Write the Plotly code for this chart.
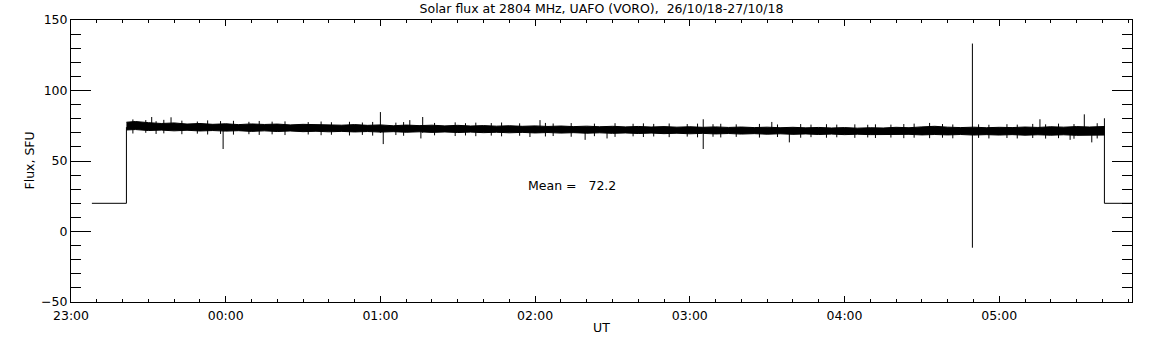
from datetime import datetime, timedelta
import plotly.graph_objects as go

# ---- data (time in minutes after 23:00 UT, 26/10/18; flux in SFU) ----
env_t = [21.5, 25, 30, 35, 40, 45, 50, 55, 60, 65, 70, 75, 80, 85, 90, 95, 100, 105, 110, 115,
         120, 125, 130, 135, 140, 145, 150, 155, 160, 165, 170, 175, 180, 185, 190, 195, 200, 205,
         210, 215, 220, 225, 230, 235, 240, 245, 250, 255, 260, 265, 270, 275, 280, 285, 290, 295,
         300, 305, 310, 315, 320, 325, 330, 335, 340, 345, 350, 355, 360, 365, 370, 375, 380, 385,
         390, 395, 401]
env_upper = [77.5, 78.0, 77.2, 76.6, 77.0, 76.2, 76.6, 76.0, 76.4, 75.8, 76.3, 75.9, 76.2, 75.6,
             76.0, 75.7, 75.9, 75.4, 75.8, 75.3, 75.6, 75.0, 75.5, 75.1, 75.4, 74.9, 75.3, 74.8,
             75.1, 74.7, 75.0, 74.6, 74.9, 74.5, 74.8, 74.4, 74.7, 74.3, 74.6, 74.2, 74.5, 74.1,
             74.4, 74.0, 74.3, 73.9, 74.2, 73.8, 74.1, 73.7, 74.0, 73.6, 73.9, 73.5, 73.8, 73.4,
             73.7, 73.3, 73.6, 73.4, 73.9, 73.6, 74.2, 74.6, 74.0, 73.7, 74.0, 73.6, 73.9, 73.7,
             74.1, 73.8, 74.3, 74.0, 74.4, 74.1, 74.5]
env_lower = [72.0, 72.3, 71.6, 71.9, 71.4, 71.8, 71.3, 71.6, 71.2, 71.5, 71.0, 71.4, 70.9, 71.3,
             70.8, 71.1, 70.7, 71.0, 70.6, 70.9, 70.5, 70.8, 70.4, 70.7, 70.3, 70.6, 70.2, 70.5,
             70.1, 70.4, 70.0, 70.3, 69.9, 70.2, 69.8, 70.1, 69.7, 70.0, 69.6, 69.9, 69.5, 69.8,
             69.4, 69.7, 69.3, 69.6, 69.2, 69.5, 69.1, 69.4, 69.0, 69.3, 68.9, 69.2, 68.8, 69.1,
             68.7, 69.0, 68.7, 68.9, 68.6, 68.9, 68.5, 68.8, 68.5, 68.8, 68.4, 68.7, 68.4, 68.7,
             68.3, 68.6, 68.3, 68.6, 68.2, 68.5, 68.4]

# isolated spikes: time, low, high
spike_t = [31.3, 38.8, 59.0, 120.0, 121.1, 136.4, 135.7, 131.4, 178.0, 181.9, 199.4, 207.9,
           245.2, 271.8, 278.6, 349.6, 375.8, 387.5, 393.0, 395.9, 400.8]
spike_lo = [72.0, 72.0, 58.5, 70.0, 62.0, 70.0, 66.0, 71.0, 67.0, 70.0, 65.0, 66.0,
            58.5, 70.0, 63.2, -11.5, 70.0, 65.0, 70.0, 63.2, 20.0]
spike_hi = [81.2, 81.0, 73.0, 84.7, 75.0, 81.2, 74.0, 79.0, 73.0, 79.0, 72.0, 72.0,
            79.6, 77.7, 72.0, 133.3, 79.6, 72.0, 83.1, 72.0, 80.3]

# small noise excursions of the band: time, low, high
whisk_t = [24, 29, 33, 36, 43, 49, 53, 58, 63, 69, 73, 78, 83, 92, 97, 101, 108, 113, 117, 126,
           129, 141, 149, 153, 157, 163, 167, 174, 184, 187, 194, 203, 211, 218, 222, 226, 232,
           239, 243, 249, 252, 258, 267, 274, 283, 287, 293, 297, 304, 309, 312, 318, 323, 327,
           333, 338, 342, 352, 356, 363, 367, 373, 378, 383, 389, 398]
whisk_hi = [79.5, 79.0, 78.2, 79.2, 78.6, 78.0, 78.8, 78.3, 78.5, 77.8, 78.4, 77.9, 78.1, 77.6,
            78.0, 77.5, 77.8, 77.3, 77.7, 77.2, 77.6, 77.0, 77.4, 76.8, 77.2, 76.9, 77.3, 76.7,
            77.0, 76.6, 76.9, 76.5, 76.8, 76.4, 76.7, 76.3, 76.6, 76.2, 76.5, 76.1, 76.4, 76.0,
            76.3, 75.9, 76.2, 75.8, 76.1, 75.8, 76.0, 75.7, 76.0, 75.8, 76.2, 76.5, 77.0, 76.2,
            75.9, 76.0, 75.7, 76.1, 75.8, 76.3, 76.0, 76.5, 76.2, 76.8]
whisk_lo = [69.5, 70.0, 69.2, 69.6, 69.0, 69.4, 68.8, 69.2, 68.7, 69.0, 68.5, 68.9, 68.4, 68.8,
            68.3, 68.6, 68.1, 68.5, 68.0, 68.4, 67.9, 68.2, 67.7, 68.1, 67.6, 68.0, 67.5, 67.9,
            67.4, 67.7, 67.2, 67.6, 67.1, 67.5, 67.0, 67.4, 66.9, 67.3, 66.8, 67.2, 66.7, 67.1,
            66.6, 67.0, 66.5, 66.9, 66.5, 66.8, 66.4, 66.7, 66.3, 66.6, 66.2, 66.5, 66.2, 66.5,
            66.1, 66.4, 66.0, 66.3, 66.0, 66.3, 65.9, 66.2, 65.8, 66.0]

# baseline (instrument off) segments
base_t = [8.1, 21.5, 21.5, None, 400.8, 411.5]
base_v = [20.0, 20.0, 74.0, None, 20.0, 20.0]

mean_value = 72.2
y_ticks = [-50, 0, 50, 100, 150]

t0 = datetime(2018, 10, 26, 23, 0)
def T(m):
    return None if m is None else t0 + timedelta(minutes=m)

fig = go.Figure()
fig.add_trace(go.Scatter(x=[T(m) for m in env_t], y=env_lower, mode="lines",
                         line=dict(color="black", width=1), showlegend=False))
fig.add_trace(go.Scatter(x=[T(m) for m in env_t], y=env_upper, mode="lines", fill="tonexty",
                         fillcolor="black", line=dict(color="black", width=1), showlegend=False))
sx, sy = [], []
for t, lo, hi in list(zip(spike_t, spike_lo, spike_hi)) + list(zip(whisk_t, whisk_lo, whisk_hi)):
    sx += [T(t), T(t), None]
    sy += [lo, hi, None]
fig.add_trace(go.Scatter(x=sx, y=sy, mode="lines", line=dict(color="black", width=1),
                         showlegend=False, connectgaps=False))
fig.add_trace(go.Scatter(x=[T(m) for m in base_t], y=base_v, mode="lines",
                         line=dict(color="black", width=1), showlegend=False, connectgaps=False))

FS = 12.5
font = dict(family="DejaVu Sans", size=FS, color="black")
fig.update_layout(
    width=1152, height=345,
    margin=dict(l=71, r=20, t=20, b=41),
    paper_bgcolor="white", plot_bgcolor="white",
    font=font, hovermode=False,
    title=dict(text="Solar flux at 2804 MHz, UAFO (VORO),\u00a0\u00a026/10/18-27/10/18",
               x=(71 + 1132) / 2 / 1152, xanchor="center", y=1 - 9 / 345, yanchor="middle",
               yref="container", font=font),
    xaxis=dict(type="date", range=[T(0), T(411.5)], tickformat="%H:%M",
               tick0=T(0), dtick=3600000, ticks="inside", ticklen=6, tickwidth=1,
               tickcolor="black", showline=True, linecolor="black", linewidth=1,
               mirror="allticks", showgrid=False, zeroline=False, ticklabelstandoff=2,
               minor=dict(dtick=600000, ticklen=3, ticks="inside", tickcolor="black", showgrid=False),
               title=dict(text="UT", standoff=1, font=font)),
    yaxis=dict(range=[-50, 150], tickvals=y_ticks,
               ticktext=[("\u2212" + str(-v)) if v < 0 else str(v) for v in y_ticks],
               ticks="inside", ticklen=20, tickwidth=1, tickcolor="black",
               showline=True, linecolor="black", linewidth=1, mirror="allticks",
               showgrid=False, zeroline=False,
               minor=dict(dtick=10, tick0=0, ticklen=10, ticks="inside", tickcolor="black", showgrid=False)),
    annotations=[
        dict(text="Flux, SFU", textangle=-90, xref="paper", yref="paper",
             x=(28.5 - 71) / 1061, xanchor="center", y=0.5, yanchor="middle",
             showarrow=False, font=font),
        dict(text="Mean =\u00a0\u00a0\u00a0" + f"{mean_value:.1f}", xref="paper", yref="y",
             x=(526 - 71) / 1061, xanchor="left", y=(233 - 187) / 1.42, showarrow=False, font=font),
    ],
)
fig.write_html("out.html", config={"displayModeBar": False, "staticPlot": True},
               post_script="document.body.style.margin='0px';")
